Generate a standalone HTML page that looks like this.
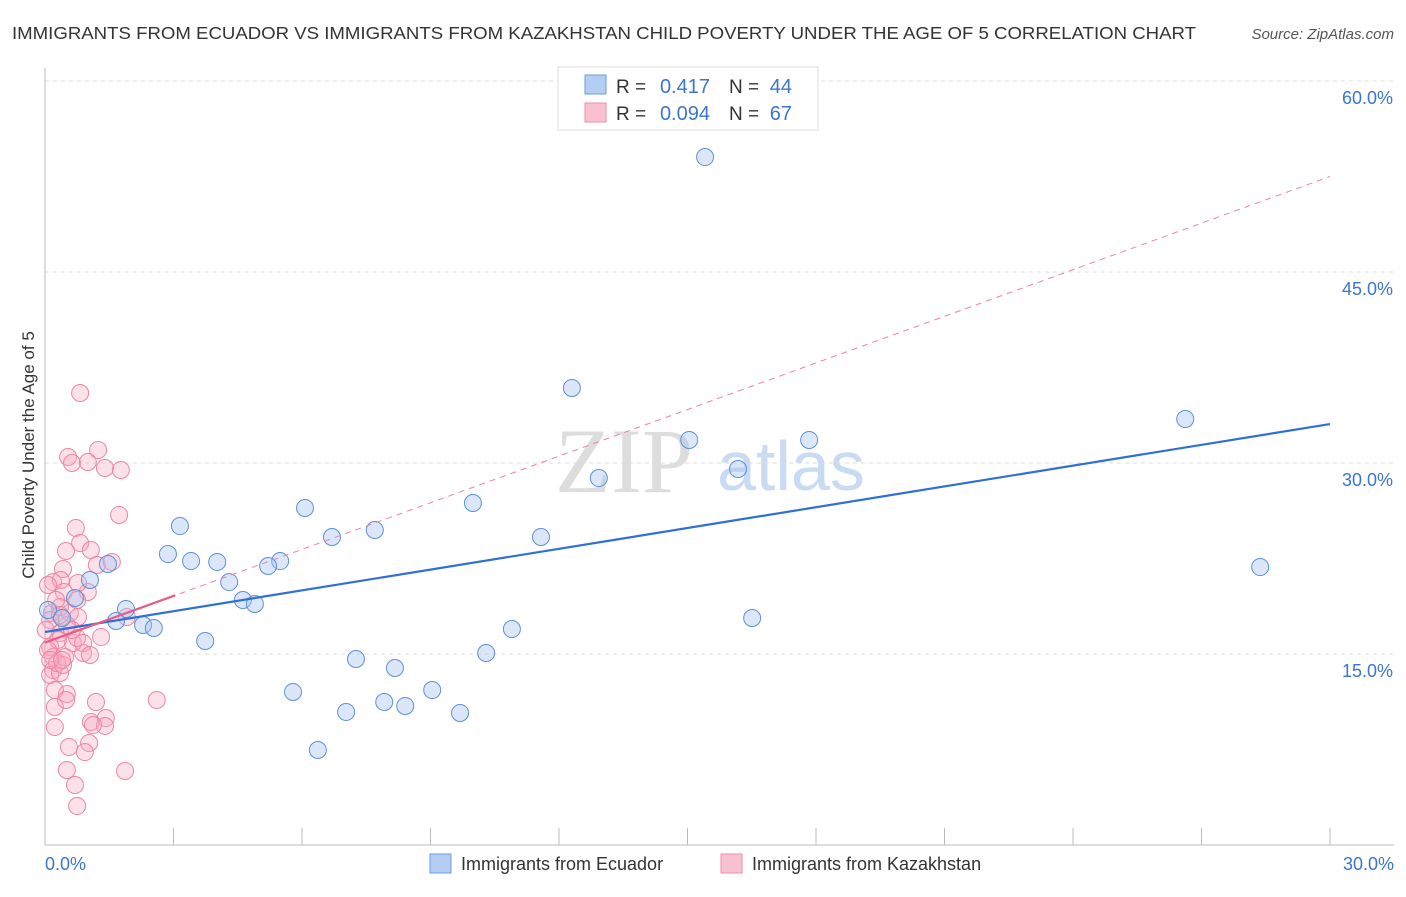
<!DOCTYPE html>
<html><head><meta charset="utf-8"><style>
body{margin:0;background:#fff;font-family:"Liberation Sans",sans-serif;}
</style></head><body>
<svg id="c" width="1406" height="892" xmlns="http://www.w3.org/2000/svg" style="font-family:'Liberation Sans',sans-serif">
<text x="12" y="39" font-size="17.5" fill="#333" textLength="1184" lengthAdjust="spacingAndGlyphs">IMMIGRANTS FROM ECUADOR VS IMMIGRANTS FROM KAZAKHSTAN CHILD POVERTY UNDER THE AGE OF 5 CORRELATION CHART</text>
<text x="1394" y="39" font-size="15" fill="#555" font-style="italic" text-anchor="end">Source: ZipAtlas.com</text>
<text x="555" y="492" font-size="92" fill="#ddd" font-family="Liberation Serif,serif">ZIP</text>
<text x="717" y="490" font-size="70" fill="#c9daf3">atlas</text>
<text transform="translate(34,455) rotate(-90)" font-size="17" fill="#333" text-anchor="middle">Child Poverty Under the Age of 5</text>
<g id="grid"></g><g id="marks"></g>
<g>
<rect x="558" y="67" width="260" height="63" fill="#fff" stroke="#ddd"/>
<rect x="585" y="75" width="21" height="19" fill="#b4cdf3" stroke="#6f9be0"/>
<rect x="585" y="103" width="21" height="19" fill="#f9c0d0" stroke="#ee8eaa"/>
<text x="616" y="93" font-size="19" fill="#333">R =</text>
<text x="710" y="93" font-size="20" fill="#3a76d0" text-anchor="end">0.417</text>
<text x="729" y="93" font-size="19" fill="#333">N =</text>
<text x="792" y="93" font-size="20" fill="#3a76d0" text-anchor="end">44</text>
<text x="616" y="120" font-size="19" fill="#333">R =</text>
<text x="710" y="120" font-size="20" fill="#3a76d0" text-anchor="end">0.094</text>
<text x="729" y="120" font-size="19" fill="#333">N =</text>
<text x="792" y="120" font-size="20" fill="#3a76d0" text-anchor="end">67</text>
</g>
<g>
<rect x="430" y="854" width="21" height="19" fill="#b4cdf3" stroke="#6f9be0"/>
<text x="461" y="870" font-size="18" fill="#333">Immigrants from Ecuador</text>
<rect x="721" y="854" width="21" height="19" fill="#f9c0d0" stroke="#ee8eaa"/>
<text x="752" y="870" font-size="18" fill="#333">Immigrants from Kazakhstan</text>
</g>
</svg>
<script>
const yTicks=[15,30,45,60];
const yTickLabels=["15.0%","30.0%","45.0%","60.0%"];
const xTickLabels=["0.0%","30.0%"];
const blueX=[15.41,12.30,26.62,15.04,17.84,16.18,12.93,9.99,6.07,3.15,7.70,6.70,11.58,2.87,3.41,4.02,5.49,5.21,1.47,1.05,4.30,4.62,4.90,0.70,1.89,1.66,2.29,2.54,0.07,0.40,3.74,16.51,10.90,7.26,8.17,10.30,5.79,9.04,7.03,7.92,8.41,9.69,6.37,28.37];
const blueY=[54.03,35.89,33.46,31.81,31.81,29.53,28.82,26.86,26.47,25.05,24.74,24.19,24.19,22.85,22.30,22.23,22.30,21.91,22.07,20.81,20.65,19.24,18.93,19.40,18.53,17.59,17.28,17.04,18.46,17.83,16.02,17.83,16.96,14.61,13.90,15.08,12.02,12.17,10.45,11.23,10.92,10.37,7.46,21.83];
const pinkX=[0.82,0.54,1.24,0.63,1.00,1.40,1.77,1.73,0.72,0.82,0.49,1.07,1.21,1.56,0.42,0.19,0.37,1.00,0.44,0.16,0.58,0.35,0.75,1.91,0.77,1.31,0.89,0.65,0.35,0.12,0.19,0.47,0.75,0.89,0.51,0.12,0.30,0.19,0.12,0.35,0.28,0.42,0.51,1.19,2.61,0.23,0.23,1.07,1.42,1.40,1.12,0.56,1.03,0.93,1.87,0.51,0.70,0.75,0.07,0.07,0.23,0.12,0.40,0.63,0.02,0.26,0.77,1.05,0.49,0.35];
const pinkY=[35.50,30.47,31.02,30.00,30.08,29.61,29.45,25.92,24.90,23.72,23.09,23.17,21.99,22.23,21.68,20.65,20.81,19.87,19.87,18.22,18.22,18.69,19.24,17.91,17.91,16.34,15.08,15.86,16.65,15.55,14.76,14.76,16.26,15.86,17.28,17.67,16.10,13.74,13.35,13.51,14.29,14.14,11.86,11.23,11.39,10.84,9.27,9.66,9.97,9.35,9.42,7.70,8.01,7.30,5.81,5.89,4.71,3.06,20.42,15.31,12.17,14.53,14.53,16.89,16.89,19.24,20.58,14.92,11.39,18.06];
const blueFit=[16.73,33.06];
const pinkFit=[15.9,1.22];
const pinkSolidEnd=3.04;
const NS="http://www.w3.org/2000/svg";
const xs=v=>45+v*(1285/30), ys=v=>845-v*12.733;
function mk(t,a,p){const e=document.createElementNS(NS,t);for(const k in a)e.setAttribute(k,a[k]);p.appendChild(e);return e;}
const grid=document.getElementById('grid'),marks=document.getElementById('marks');
yTicks.forEach((v,i)=>{
 const l=mk('line',{x1:45,x2:1394,y1:ys(v),y2:ys(v),stroke:'#ddd','stroke-dasharray':'4,4'},grid);
 
 
 const t=mk('text',{x:1393,y:ys(v)+23,'font-size':18,fill:'#3a76d0','text-anchor':'end'},grid);t.textContent=yTickLabels[i];
 
 
});
const ax=mk('line',{x1:45,x2:45,y1:68,y2:845,stroke:'#bbb'},grid);


const bx=mk('line',{x1:45,x2:1394,y1:845,y2:845,stroke:'#bbb'},grid);


for(let i=0;i<=10;i++){const t=mk('line',{x1:xs(i*3),x2:xs(i*3),y1:828,y2:845,stroke:'#bbb'},grid);
 
 }
const xl0=mk('text',{x:45,y:870,'font-size':18,fill:'#3a76d0'},grid);xl0.textContent=xTickLabels[0];


const xl1=mk('text',{x:1394,y:870,'font-size':18,fill:'#3a76d0','text-anchor':'end'},grid);xl1.textContent=xTickLabels[1];


pinkX.forEach((x,i)=>{const c=mk('circle',{cx:xs(x),cy:ys(pinkY[i]),r:8.5,fill:'rgba(247,170,192,0.35)',stroke:'#ec86a4','stroke-width':1},marks);
 
 });
blueX.forEach((x,i)=>{const c=mk('circle',{cx:xs(x),cy:ys(blueY[i]),r:8.5,fill:'rgba(165,195,240,0.4)',stroke:'#5e8fdc','stroke-width':1},marks);
 
 });
const pd=mk('line',{x1:xs(0),y1:ys(pinkFit[0]),x2:xs(30),y2:ys(pinkFit[0]+pinkFit[1]*30),stroke:'#ec86a4','stroke-dasharray':'6,5','stroke-width':1},marks);


const bl=mk('line',{x1:xs(0),y1:ys(blueFit[0]),x2:xs(30),y2:ys(blueFit[1]),stroke:'#2f6fd6','stroke-width':2.2},marks);


const ps=mk('line',{x1:xs(0),y1:ys(pinkFit[0]),x2:xs(pinkSolidEnd),y2:ys(pinkFit[0]+pinkFit[1]*pinkSolidEnd),stroke:'#e85c86','stroke-width':2.2},marks);


</script>
</body></html>
